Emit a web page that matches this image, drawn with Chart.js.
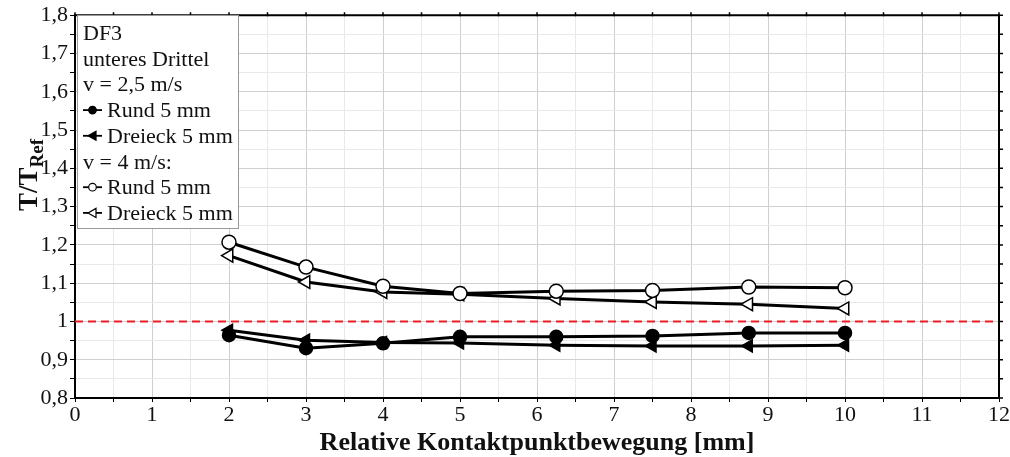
<!DOCTYPE html>
<html>
<head>
<meta charset="utf-8">
<script src="https://cdn.jsdelivr.net/npm/chart.js"></script>
<style>
    html, body { margin: 0; padding: 0; background: #fff; }
    #wrap { width: 1010px; height: 457px; }
</style>
</head>
<body>
<div id="wrap"><canvas id="chart" width="1010" height="457"></canvas></div>
<script>
// data
var xValues = [2, 3, 4, 5, 6.25, 7.5, 8.75, 10];
var rund25 = [0.964, 0.930, 0.943, 0.960, 0.960, 0.962, 0.970, 0.970];
var dreieck25 = [0.977, 0.951, 0.945, 0.944, 0.938, 0.936, 0.936, 0.938];
var rund4 = [1.207, 1.142, 1.092, 1.073, 1.079, 1.081, 1.090, 1.088];
var dreieck4 = [1.172, 1.103, 1.077, 1.071, 1.060, 1.051, 1.045, 1.034];
var refLine = [1, 1];
var refX = [0, 12];
var xTicks = [0, 1, 2, 3, 4, 5, 6, 7, 8, 9, 10, 11, 12];
var yTicks = ['0,8', '0,9', '1', '1,1', '1,2', '1,3', '1,4', '1,5', '1,6', '1,7', '1,8'];
var legendLines = ['DF3', 'unteres Drittel', 'v = 2,5 m/s', 'Rund 5 mm', 'Dreieck 5 mm', 'v = 4 m/s:', 'Rund 5 mm', 'Dreieck 5 mm'];

var SERIF = '"Liberation Serif", "DejaVu Serif", serif';

function toPoints(xs, ys) {
    var out = [];
    for (var i = 0; i < xs.length; i++) out.push({ x: xs[i], y: ys[i] });
    return out;
}

function isMajor(v, step) {
    var r = v / step;
    return Math.abs(r - Math.round(r)) < 1e-6;
}

function series(ys, style, filled, radius) {
    return {
        data: toPoints(xValues, ys),
        borderColor: '#000',
        borderWidth: 3,
        pointStyle: style,
        pointRotation: style === 'triangle' ? -90 : 0,
        pointRadius: radius,
        pointBorderWidth: 1.5,
        pointBorderColor: '#000',
        pointBackgroundColor: filled ? '#000' : '#fff',
        tension: 0
    };
}

// draws a small marker for the legend
function drawMarker(ctx, x, y, style, filled) {
    ctx.save();
    ctx.lineWidth = 1.2;
    ctx.strokeStyle = '#000';
    ctx.fillStyle = filled ? '#000' : '#fff';
    ctx.beginPath();
    if (style === 'circle') {
        ctx.arc(x, y, 3.8, 0, Math.PI * 2);
    } else {
        ctx.moveTo(x - 4.5, y);
        ctx.lineTo(x + 3.5, y - 4.5);
        ctx.lineTo(x + 3.5, y + 4.5);
        ctx.closePath();
    }
    ctx.fill();
    ctx.stroke();
    ctx.restore();
}

var decorPlugin = {
    id: 'decor',
    afterDraw: function(chart) {
        var ctx = chart.ctx;
        var a = chart.chartArea;
        var xs = chart.scales.x;
        var ys = chart.scales.y;
        var v;

        ctx.save();
        // top and right frame with their tick marks
        ctx.strokeStyle = '#000';
        ctx.lineWidth = 2;
        ctx.beginPath();
        ctx.moveTo(a.left, a.top);
        ctx.lineTo(a.right, a.top);
        ctx.lineTo(a.right, a.bottom);
        ctx.stroke();
        ctx.lineWidth = 1.5;
        ctx.beginPath();
        for (v = 0; v <= 12.001; v += 0.5) {
            var px = xs.getPixelForValue(v);
            ctx.moveTo(px, a.top - 3);
            ctx.lineTo(px, a.top + 1);
        }
        for (v = 0; v <= 20; v++) {
            var py = ys.getPixelForValue(0.8 + v * 0.05);
            ctx.moveTo(a.right - 1, py);
            ctx.lineTo(a.right + 4, py);
        }
        ctx.stroke();

        // legend box
        var lx = 77, ly = 15, lw = 161, lh = 213;
        ctx.fillStyle = '#fff';
        ctx.fillRect(lx, ly, lw, lh);
        ctx.strokeStyle = '#999';
        ctx.lineWidth = 1;
        ctx.strokeRect(lx + 0.5, ly + 0.5, lw, lh);
        ctx.fillStyle = '#111';
        ctx.font = '22px ' + SERIF;
        ctx.textAlign = 'left';
        ctx.textBaseline = 'alphabetic';
        var marks = [null, null, null, ['circle', true], ['triangle', true], null, ['circle', false], ['triangle', false]];
        for (var i = 0; i < legendLines.length; i++) {
            var by = 40 + i * 25.7;
            if (marks[i]) {
                ctx.strokeStyle = '#000';
                ctx.lineWidth = 1.8;
                ctx.beginPath();
                ctx.moveTo(83, by - 7);
                ctx.lineTo(102, by - 7);
                ctx.stroke();
                drawMarker(ctx, 92.5, by - 7, marks[i][0], marks[i][1]);
                ctx.fillText(legendLines[i], 107, by);
            } else {
                ctx.fillText(legendLines[i], 83, by);
            }
        }

        // x axis title
        ctx.fillStyle = '#111';
        ctx.font = 'bold 26px ' + SERIF;
        ctx.textAlign = 'center';
        ctx.fillText('Relative Kontaktpunktbewegung [mm]', (a.left + a.right) / 2, 450);

        // y axis title T/T_Ref
        ctx.translate(37, 175);
        ctx.rotate(-Math.PI / 2);
        ctx.textAlign = 'left';
        ctx.font = 'bold 27px ' + SERIF;
        var w1 = ctx.measureText('T/T').width;
        ctx.font = 'bold 19px ' + SERIF;
        var w2 = ctx.measureText('Ref').width;
        var sx = -(w1 + w2) / 2;
        ctx.font = 'bold 27px ' + SERIF;
        ctx.fillText('T/T', sx, 0);
        ctx.font = 'bold 19px ' + SERIF;
        ctx.fillText('Ref', sx + w1, 6);
        ctx.restore();
    }
};

new Chart(document.getElementById('chart').getContext('2d'), {
    type: 'line',
    data: {
        datasets: [
            series(rund25, 'circle', true, 6.5),
            series(dreieck25, 'triangle', true, 7),
            series(rund4, 'circle', false, 7),
            series(dreieck4, 'triangle', false, 7.5),
            {
                data: toPoints(refX, refLine),
                borderColor: '#ee1c25',
                borderWidth: 2,
                borderDash: [8, 5],
                pointRadius: 0
            }
        ]
    },
    options: {
        responsive: false,
        animation: false,
        events: [],
        layout: { padding: { top: 13, right: 9, left: 0, bottom: 0 } },
        plugins: {
            legend: { display: false },
            tooltip: { enabled: false }
        },
        scales: {
            x: {
                type: 'linear',
                min: 0,
                max: 12,
                afterFit: function(scale) { scale.height = 59; },
                afterBuildTicks: function(scale) {
                    var t = [];
                    for (var v = 0; v <= 24; v++) t.push({ value: v * 0.5 });
                    scale.ticks = t;
                },
                border: { color: '#000', width: 2 },
                grid: {
                    color: function(c) { return isMajor(c.tick.value, 1) ? '#cfcfcf' : '#e9e9e9'; },
                    tickColor: '#000',
                    tickLength: 4,
                    lineWidth: 1
                },
                ticks: {
                    autoSkip: false,
                    maxRotation: 0,
                    padding: 0,
                    color: '#111',
                    font: { family: SERIF, size: 22 },
                    callback: function(v) {
                        return isMajor(v, 1) ? String(xTicks[Math.round(v)]) : '';
                    }
                }
            },
            y: {
                type: 'linear',
                min: 0.8,
                max: 1.8,
                afterFit: function(scale) { scale.width = 75; },
                afterBuildTicks: function(scale) {
                    var t = [];
                    for (var v = 0; v <= 20; v++) t.push({ value: 0.8 + v * 0.05 });
                    scale.ticks = t;
                },
                border: { color: '#000', width: 2 },
                grid: {
                    color: function(c) { return isMajor(c.tick.value - 0.8, 0.1) ? '#cfcfcf' : '#e9e9e9'; },
                    tickColor: '#000',
                    tickLength: 5,
                    lineWidth: 1
                },
                ticks: {
                    autoSkip: false,
                    padding: 2,
                    color: '#111',
                    font: { family: SERIF, size: 22 },
                    callback: function(v) {
                        var k = (v - 0.8) / 0.1;
                        return isMajor(v - 0.8, 0.1) ? yTicks[Math.round(k)] : '';
                    }
                }
            }
        }
    },
    plugins: [decorPlugin]
});
</script>
</body>
</html>
